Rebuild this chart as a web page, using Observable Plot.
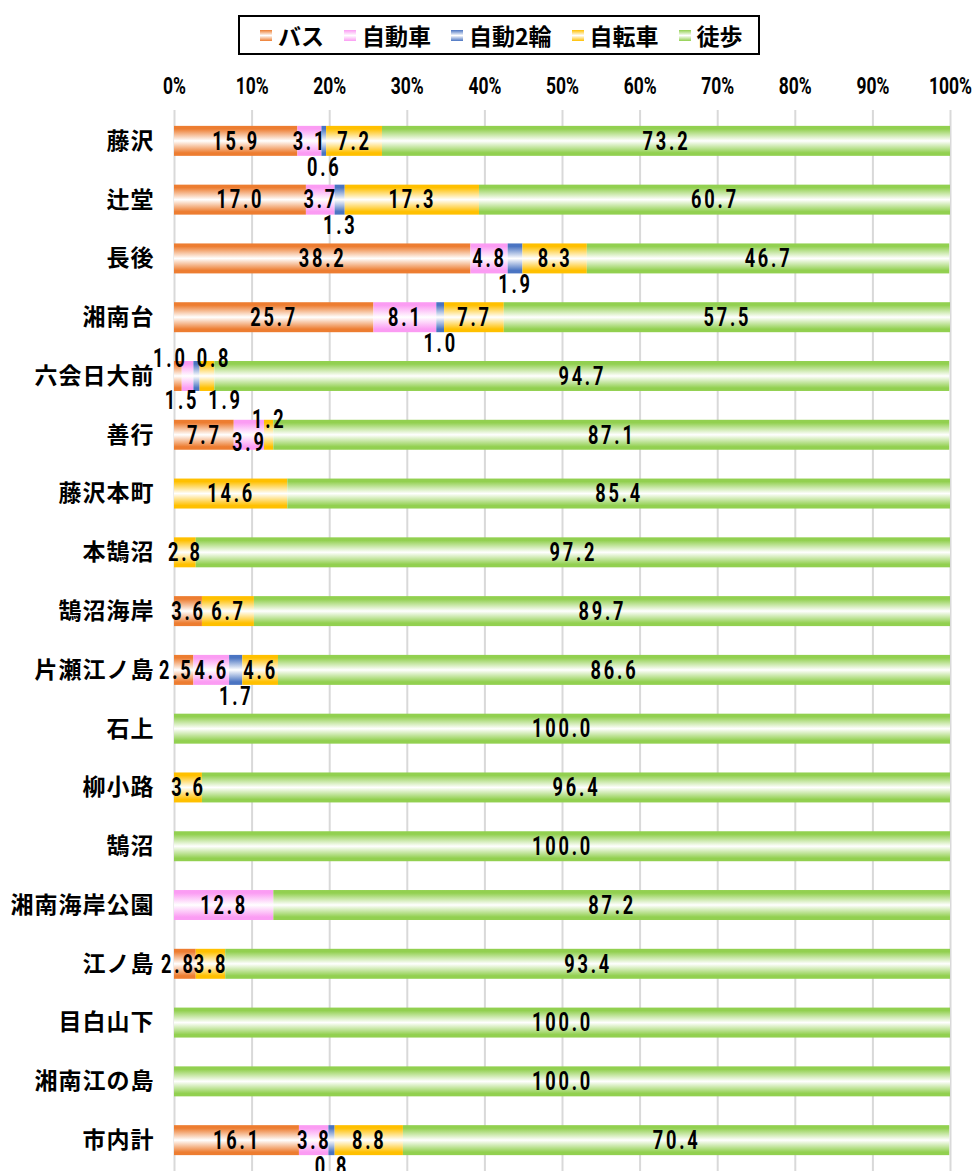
<!DOCTYPE html>
<html>
<head>
<meta charset="utf-8">
<script src="https://cdn.jsdelivr.net/npm/d3@7"></script>
<script src="https://cdn.jsdelivr.net/npm/@observablehq/plot@0.6"></script>
<style>
  html, body { margin: 0; padding: 0; background: #fff; }
  body { width: 976px; height: 1171px; overflow: hidden; }
  #legend { position: relative; width: 976px; height: 60px; }
  #legend .box {
    position: absolute; left: 238px; top: 15px; width: 522px; height: 40px;
    box-sizing: border-box; border: 2px solid #000;
    display: flex; align-items: center; padding-left: 20px; white-space: nowrap;
    font-family: "Noto Sans CJK JP", sans-serif; font-size: 23px; font-weight: 700; color: #000;
  }
  #legend .item { display: flex; align-items: center; margin-right: 20px; flex-shrink: 0; white-space: nowrap; }
  #legend .sw { width: 12px; height: 11px; margin-right: 6px; flex-shrink: 0; }
  .num text { letter-spacing: 4px; }
  .ylab text { letter-spacing: 1px; }
  #chart svg { display: block; }
</style>
</head>
<body>
<div id="legend"><div class="box"></div></div>
<div id="chart"></div>
<script>
// ---- data ----
const stations = ["藤沢","辻堂","長後","湘南台","六会日大前","善行","藤沢本町","本鵠沼","鵠沼海岸","片瀬江ノ島","石上","柳小路","鵠沼","湘南海岸公園","江ノ島","目白山下","湘南江の島","市内計"];
const modes = ["バス","自動車","自動2輪","自転車","徒歩"];
const busValues     = [15.9, 17.0, 38.2, 25.7, 1.0, 7.7, 0, 0, 3.6, 2.5, 0, 0, 0, 0, 2.8, 0, 0, 16.1];
const carValues     = [3.1, 3.7, 4.8, 8.1, 1.5, 3.9, 0, 0, 0, 4.6, 0, 0, 0, 12.8, 0, 0, 0, 3.8];
const motoValues    = [0.6, 1.3, 1.9, 1.0, 0.8, 0, 0, 0, 0, 1.7, 0, 0, 0, 0, 0, 0, 0, 0.8];
const bicycleValues = [7.2, 17.3, 8.3, 7.7, 1.9, 1.2, 14.6, 2.8, 6.7, 4.6, 0, 3.6, 0, 0, 3.8, 0, 0, 8.8];
const walkValues    = [73.2, 60.7, 46.7, 57.5, 94.7, 87.1, 85.4, 97.2, 89.7, 86.6, 100.0, 96.4, 100.0, 87.2, 93.4, 100.0, 100.0, 70.4];
const xTicks = [0, 10, 20, 30, 40, 50, 60, 70, 80, 90, 100];
const colors = ["#ed7d31", "#fb9cf3", "#4a74c2", "#ffc000", "#92d050"];

// ---- table ----
const series = [busValues, carValues, motoValues, bicycleValues, walkValues];
const rows = [];
stations.forEach((s, i) => {
  modes.forEach((m, j) => {
    const v = series[j][i];
    if (v > 0) rows.push({station: s, mode: m, value: v});
  });
});

// label placement (offsets for crowded labels)
const nudges = {
  "六会日大前|バス": [-8, -18],
  "六会日大前|自動車": [-6, 24],
  "六会日大前|自動2輪": [17, -18],
  "六会日大前|自転車": [18, 24],
  "善行|自動車": [0, 7],
  "善行|自転車": [0, -16],
  "片瀬江ノ島|バス": [-8, 0],
  "江ノ島|バス": [-7, 0]
};
function offsetOf(d) {
  const k = d.station + "|" + d.mode;
  if (nudges[k]) return nudges[k];
  if (d.mode === "自動2輪") return [0, 26];
  return [0, 0];
}
const offsetKeys = Array.from(new Set(rows.map(d => offsetOf(d).join(","))));

const numFont = "Roboto, 'DejaVu Sans', sans-serif";
const cjkFont = "'Noto Sans CJK JP', sans-serif";

const textMarks = offsetKeys.map(key => {
  const [dx, dy] = key.split(",").map(Number);
  return Plot.text(rows, Plot.stackX({
    x: "value", y: "station", z: "mode", order: modes,
    text: d => offsetOf(d).join(",") === key ? d.value.toFixed(1) : null,
    dx, dy,
    fontSize: 26, fontWeight: "bold", fontFamily: numFont, fill: "#000",
    className: "num"
  }));
});

const chart = Plot.plot({
  width: 976,
  height: 1111,
  marginTop: 50,
  marginLeft: 174,
  marginRight: 26,
  marginBottom: 0,
  x: {domain: [0, 100]},
  y: {domain: stations, paddingInner: 0.49, paddingOuter: 0.27, round: false},
  color: {domain: modes, range: modes.map((m, i) => `url(#grad${i})`)},
  style: {background: "white", overflow: "visible"},
  marks: [
    Plot.gridX(xTicks, {stroke: "#d9d9d9", strokeOpacity: 1, strokeWidth: 2}),
    Plot.barX(rows, Plot.stackX({x: "value", y: "station", z: "mode", order: modes, fill: "mode"})),
    ...textMarks,
    Plot.axisX({anchor: "top", ticks: xTicks, tickSize: 0, tickPadding: 17, tickFormat: d => d + "%",
      fontSize: 23, fontWeight: "bold", fontFamily: numFont, label: null, className: "xax"}),
    Plot.axisY({tickSize: 0, tickPadding: 20, fontSize: 23, fontWeight: "bold", fontFamily: cjkFont,
      label: null, className: "ylab"})
  ]
});

// condensed look for numbers (horizontal squeeze of real text)
d3.select(chart).selectAll("g.num text").attr("transform", function() {
  return (this.getAttribute("transform") || "") + " scale(0.7,1)";
});
d3.select(chart).selectAll("g.xax text").attr("transform", function() {
  return (this.getAttribute("transform") || "") + " scale(0.76,1)";
});

// gradients (color at edges, white in the middle)
const defs = d3.select(chart).insert("defs", ":first-child");
colors.forEach((c, i) => {
  const g = defs.append("linearGradient").attr("id", "grad" + i)
    .attr("x1", 0).attr("y1", 0).attr("x2", 0).attr("y2", 1);
  [[0, c], [0.1, c], [0.5, "#ffffff"], [0.9, c], [1, c]].forEach(([o, col]) =>
    g.append("stop").attr("offset", o).attr("stop-color", col));
});
document.getElementById("chart").appendChild(chart);

// legend
const box = d3.select("#legend .box");
modes.forEach((m, i) => {
  const it = box.append("div").attr("class", "item");
  it.append("div").attr("class", "sw")
    .style("background", `linear-gradient(to bottom, ${colors[i]}, #ffffff 50%, ${colors[i]})`);
  it.append("span").text(m);
});
</script>
</body>
</html>
